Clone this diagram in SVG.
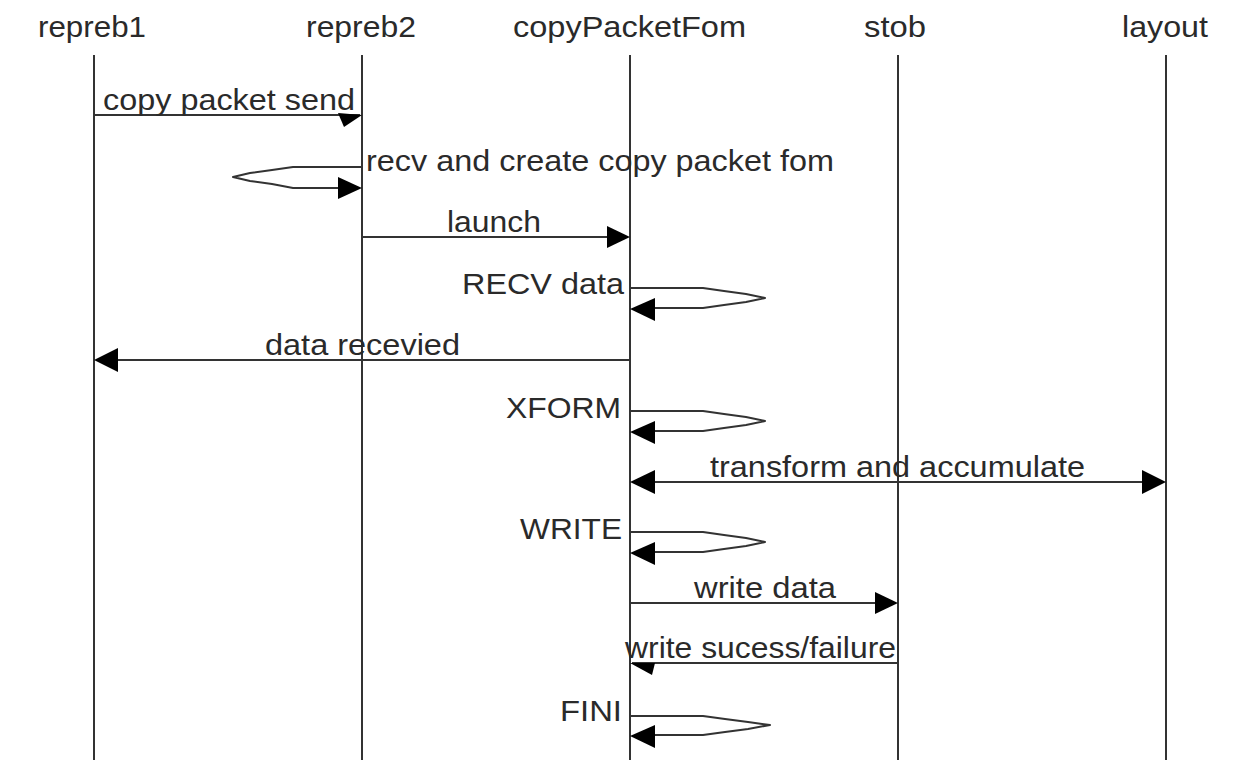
<svg xmlns="http://www.w3.org/2000/svg" width="1249" height="770" viewBox="0 0 1249 770">
<style>
text{font-family:"Liberation Sans",Arial,sans-serif;font-size:29px;fill:#2a2a2a}
.life{stroke:#333;stroke-width:2;fill:none}
.msg{stroke:#333;stroke-width:2;fill:none}
.loop{stroke:#333;stroke-width:2;fill:none;stroke-linejoin:round}
.head{fill:#000;stroke:none}
</style>
<rect width="1249" height="770" fill="#fff"/>
<g id="repreb1"><text x="38" y="37" textLength="108" lengthAdjust="spacingAndGlyphs">repreb1</text><line class="life" x1="94" y1="55" x2="94" y2="760"/></g>
<g id="repreb2"><text x="306" y="37" textLength="110" lengthAdjust="spacingAndGlyphs">repreb2</text><line class="life" x1="362" y1="55" x2="362" y2="760"/></g>
<g id="copyPacketFom"><text x="513" y="37" textLength="233" lengthAdjust="spacingAndGlyphs">copyPacketFom</text><line class="life" x1="630" y1="55" x2="630" y2="760"/></g>
<g id="stob"><text x="864" y="37" textLength="62" lengthAdjust="spacingAndGlyphs">stob</text><line class="life" x1="898" y1="55" x2="898" y2="760"/></g>
<g id="layout"><text x="1122" y="37" textLength="86" lengthAdjust="spacingAndGlyphs">layout</text><line class="life" x1="1166" y1="55" x2="1166" y2="760"/></g>
<g id="connectors">
<line class="msg" x1="94" y1="115" x2="360" y2="115"/>
<polygon class="head" points="338,113 362,115 344,127"/>
<text x="103" y="110" textLength="252" lengthAdjust="spacingAndGlyphs">copy packet send</text>

<path class="loop" d="M362,167 H293 L272,170 L250,173 L233,177 L250,181 L272,184 L293,188 H340"/>
<polygon class="head" points="362,188 338,177 338,199"/>
<text x="366" y="171" textLength="468" lengthAdjust="spacingAndGlyphs">recv and create copy packet fom</text>

<line class="msg" x1="362" y1="237" x2="610" y2="237"/>
<polygon class="head" points="630,237 607,226 607,248"/>
<text x="447" y="232" textLength="94" lengthAdjust="spacingAndGlyphs">launch</text>

<path class="loop" d="M630,288 H703 L724,291 L746,294 L765,298 L746,302 L724,305 L703,308 H652"/>
<polygon class="head" points="630,309 655,298 655,321"/>
<text x="462" y="294" textLength="162" lengthAdjust="spacingAndGlyphs">RECV data</text>

<line class="msg" x1="116" y1="360" x2="630" y2="360"/>
<polygon class="head" points="94,360 118,348 118,372"/>
<text x="265" y="355" textLength="195" lengthAdjust="spacingAndGlyphs">data recevied</text>

<path class="loop" d="M630,411 H703 L724,414 L746,417 L765,421 L746,425 L724,428 L703,431 H652"/>
<polygon class="head" points="630,432 655,421 655,444"/>
<text x="506" y="418" textLength="115" lengthAdjust="spacingAndGlyphs">XFORM</text>

<line class="msg" x1="652" y1="482" x2="1144" y2="482"/>
<polygon class="head" points="630,482 655,470 655,494"/>
<polygon class="head" points="1166,482 1142,470 1142,494"/>
<text x="710" y="477" textLength="375" lengthAdjust="spacingAndGlyphs">transform and accumulate</text>

<path class="loop" d="M630,532 H703 L724,535 L746,538 L765,542 L746,546 L724,549 L703,552 H652"/>
<polygon class="head" points="630,553 655,542 655,565"/>
<text x="520" y="539" textLength="102" lengthAdjust="spacingAndGlyphs">WRITE</text>

<line class="msg" x1="630" y1="603" x2="878" y2="603"/>
<polygon class="head" points="898,603 875,592 875,614"/>
<text x="694" y="598" textLength="142" lengthAdjust="spacingAndGlyphs">write data</text>

<line class="msg" x1="632" y1="663" x2="898" y2="663"/>
<polygon class="head" points="630,663 655,663 652,675"/>
<text x="625" y="658" textLength="271" lengthAdjust="spacingAndGlyphs">write sucess/failure</text>

<path class="loop" d="M630,716 H703 L725,719 L748,722 L770,725 L748,729 L725,732 L703,735 H652"/>
<polygon class="head" points="630,736 655,725 655,748"/>
<text x="560" y="721" textLength="62" lengthAdjust="spacingAndGlyphs">FINI</text>
</g>
</svg>
